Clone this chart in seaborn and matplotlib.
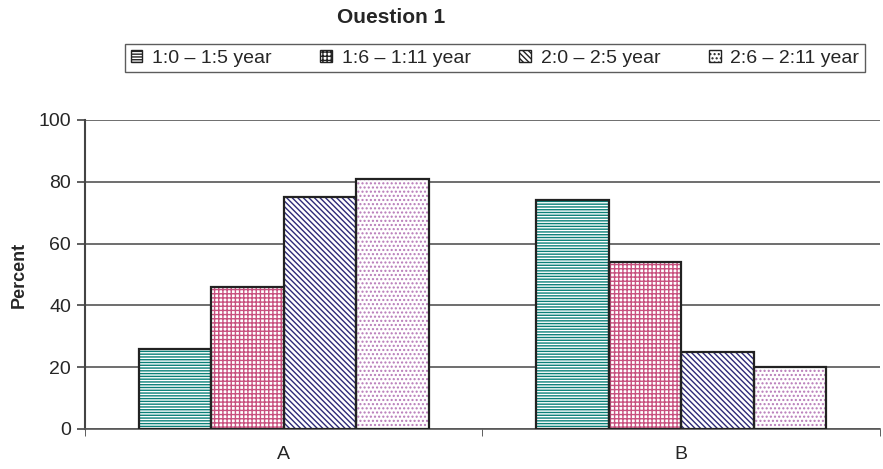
import matplotlib
matplotlib.use("Agg")
import matplotlib.pyplot as plt
import seaborn as sns
import pandas as pd
from matplotlib.patches import Rectangle

categories = ["A", "B"]
series = ["1:0 – 1:5 year", "1:6 – 1:11 year", "2:0 – 2:5 year", "2:6 – 2:11 year"]
values = {
    "1:0 – 1:5 year": [26, 74],
    "1:6 – 1:11 year": [46, 54],
    "2:0 – 2:5 year": [75, 25],
    "2:6 – 2:11 year": [81, 20],
}
title = "Ouestion 1"
ylabel = "Percent"
yticks = [0, 20, 40, 60, 80, 100]

hatch_colors = ["#0a8078", "#c8507f", "#2e2a78", "#b77ab8"]
hatches = ["------", "++++", "\\\\\\\\\\\\", "...."]

rows = []
for s in series:
    for c, v in zip(categories, values[s]):
        rows.append({"cat": c, "series": s, "val": v})
df = pd.DataFrame(rows)

sns.set_style("white")
plt.rcParams["font.family"] = ["Liberation Sans", "DejaVu Sans"]
plt.rcParams["hatch.linewidth"] = 1.0

fig = plt.figure(figsize=(8.83, 4.69), dpi=100)
ax = fig.add_axes([0.0963, 0.0853, 0.9, 0.659])

sns.barplot(data=df, x="cat", y="val", hue="series", order=categories,
            hue_order=series, palette=["white"] * 4, width=0.73,
            edgecolor="black", linewidth=0, ax=ax, legend=False, zorder=3)

for i, cont in enumerate(ax.containers):
    for p in cont:
        p.set_facecolor("white")
        p.set_hatch(hatches[i])
        p.set_edgecolor(hatch_colors[i])
        p.set_linewidth(0)
        ax.add_patch(Rectangle((p.get_x(), p.get_y()), p.get_width(), p.get_height(),
                               fill=False, edgecolor="#222222", linewidth=1.6, zorder=4))

ax.set_ylim(0, 100)
ax.set_xlim(-0.5, 1.5)
ax.set_yticks(yticks)
ax.set_yticklabels([str(t) for t in yticks], fontsize=14)
ax.tick_params(axis="y", which="both", left=True, length=6, width=1.2, color="#444444", pad=4)
ax.tick_params(axis="x", labelsize=14, length=0, pad=12)
ax.set_xticks([0, 1])
ax.set_xticks([-0.5, 0.5, 1.5], minor=True)
ax.tick_params(axis="x", which="minor", bottom=True, length=5, color="#444444")
ax.yaxis.grid(True, color="#555555", linewidth=1.2, zorder=0)
ax.set_axisbelow(True)
for side in ["top", "right"]:
    ax.spines[side].set_visible(False)
ax.spines["left"].set_color("#444444")
ax.spines["left"].set_linewidth(1.5)
ax.spines["bottom"].set_color("#555555")
ax.spines["bottom"].set_linewidth(1.2)
ax.set_xlabel("")
ax.set_ylabel(ylabel, fontsize=13, fontweight="bold", labelpad=8)

handles = []
for i, s in enumerate(series):
    handles.append(Rectangle((0, 0), 1, 1, facecolor="white", edgecolor=hatch_colors[i],
                             hatch=hatches[i], linewidth=0))
leg = fig.legend(handles, series, loc="center", bbox_to_anchor=(0.5606, 0.876),
                 ncol=4, fontsize=14, frameon=True, fancybox=False,
                 handlelength=0.6, handleheight=0.6, handletextpad=0.5,
                 columnspacing=2.5, borderpad=0.3, borderaxespad=0)
leg.get_frame().set_edgecolor("#333333")
leg.get_frame().set_linewidth(1.0)
for h in leg.legend_handles:
    h.set_linewidth(1.0)
    h.set_edgecolor("#222222")
leg._legend_box.pad = 4

fig.text(0.443, 0.962, title, ha="center", va="center", fontsize=15, fontweight="bold")

fig.savefig("out.png", dpi=100)
